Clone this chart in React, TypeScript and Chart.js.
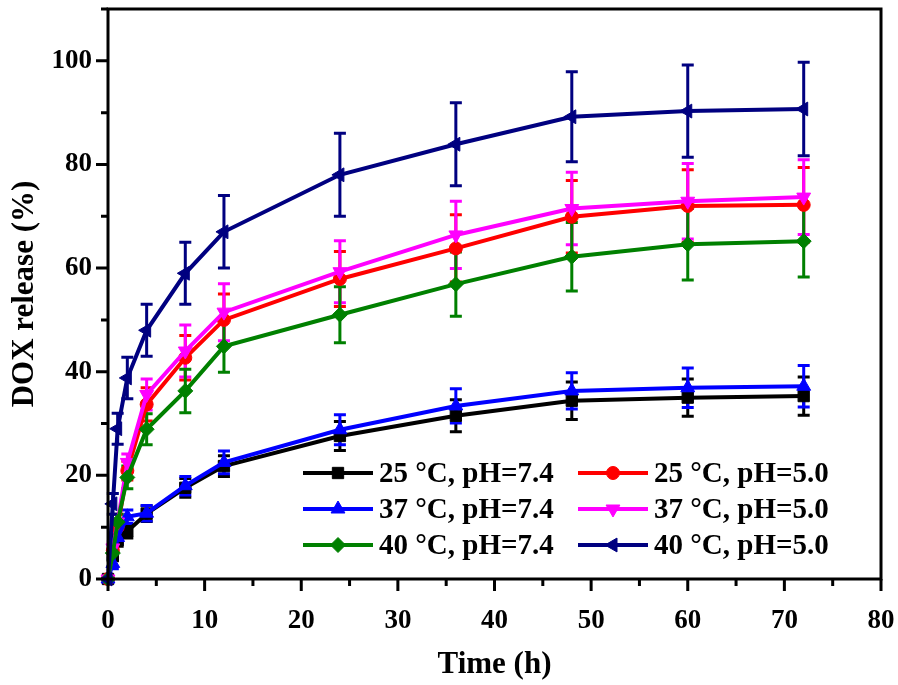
import React, { useEffect, useRef } from 'react';
import { Chart, registerables } from 'chart.js';
import { drawPoint } from 'chart.js/helpers';

Chart.register(...registerables);

// ---- Data ----
const times = [0, 0.5, 1, 2, 4, 8, 12, 24, 36, 48, 60, 72];

const seriesLabels = [
  '25 °C, pH=7.4',
  '25 °C, pH=5.0',
  '37 °C, pH=7.4',
  '37 °C, pH=5.0',
  '40 °C, pH=7.4',
  '40 °C, pH=5.0',
];

const t25pH74 = [0, 4.5, 7.5, 9.2, 12.6, 17.6, 21.8, 27.6, 31.5, 34.4, 35.0, 35.3];
const t25pH74Err = [0.5, 1.0, 1.2, 1.3, 1.5, 1.8, 2.0, 2.8, 3.1, 3.6, 3.6, 3.7];

const t25pH50 = [0, 5.5, 10.0, 20.9, 33.7, 42.7, 50.0, 57.9, 63.8, 69.9, 72.0, 72.2];
const t25pH50Err = [0.5, 1.2, 1.5, 1.8, 3.2, 4.3, 5.0, 5.3, 6.5, 7.0, 7.0, 7.2];

const t37pH74 = [0, 3.0, 8.0, 12.0, 12.7, 18.0, 22.5, 28.8, 33.4, 36.3, 36.9, 37.2];
const t37pH74Err = [0.5, 1.0, 1.2, 1.3, 1.5, 1.8, 2.2, 2.9, 3.3, 3.5, 3.8, 4.0];

const t37pH50 = [0, 6.0, 11.0, 22.5, 35.6, 44.0, 51.5, 59.3, 66.4, 71.5, 72.9, 73.7];
const t37pH50Err = [0.5, 1.2, 1.5, 1.6, 3.0, 5.0, 5.5, 6.0, 6.5, 7.0, 7.3, 7.2];

const t40pH74 = [0, 5.0, 11.0, 19.6, 28.9, 36.3, 44.9, 51.0, 56.9, 62.2, 64.6, 65.2];
const t40pH74Err = [0.5, 1.2, 1.5, 2.2, 3.0, 4.2, 5.0, 5.4, 6.2, 6.6, 6.9, 6.9];

const t40pH50 = [0, 14.5, 29.0, 38.8, 48.0, 59.0, 67.0, 78.0, 83.9, 89.2, 90.3, 90.7];
const t40pH50Err = [0.5, 2.0, 3.0, 4.0, 5.0, 6.0, 7.0, 8.0, 8.0, 8.7, 8.9, 9.0];

const seriesValues = [t25pH74, t25pH50, t37pH74, t37pH50, t40pH74, t40pH50];
const seriesErrors = [t25pH74Err, t25pH50Err, t37pH74Err, t37pH50Err, t40pH74Err, t40pH50Err];

const seriesColors = ['#000000', '#FF0000', '#0000FF', '#FF00FF', '#008000', '#000080'];
const seriesStyles = ['rect', 'circle', 'triangle', 'triangle', 'rectRot', 'triangle'];
const seriesRotation = [0, 0, 0, 180, 0, -90];
const seriesRadius = [8, 6.5, 8, 8, 7.5, 8];

const xMin = 0, xMax = 80, xMinorStep = 5, xMajorStep = 10;
const yMin = 0, yMax = 110, yMinorStep = 10, yMajorStep = 20;

const xTitle = 'Time (h)';
const yTitle = 'DOX release (%)';

const FONT = '"Liberation Serif", "Times New Roman", serif';

const errorBarPlugin = {
  id: 'errorBars',
  beforeDatasetsDraw(chart: any) {
    const ctx = chart.ctx;
    const xs = chart.scales.x;
    const ys = chart.scales.y;
    chart.data.datasets.forEach((ds: any) => {
      ctx.save();
      ctx.strokeStyle = ds.borderColor;
      ctx.lineWidth = 3;
      ds.data.forEach((p: any, i: number) => {
        const e = ds.errors[i];
        const px = xs.getPixelForValue(p.x);
        const top = ys.getPixelForValue(p.y + e);
        const bot = ys.getPixelForValue(Math.max(p.y - e, yMin));
        ctx.beginPath();
        ctx.moveTo(px, top);
        ctx.lineTo(px, bot);
        ctx.moveTo(px - 6, top);
        ctx.lineTo(px + 6, top);
        if (p.y - e >= yMin) {
          ctx.moveTo(px - 6, bot);
          ctx.lineTo(px + 6, bot);
        }
        ctx.stroke();
      });
      ctx.restore();
    });
  },
};

const framePlugin = {
  id: 'frame',
  afterDraw(chart: any) {
    const ctx = chart.ctx;
    const { left, right, top, bottom } = chart.chartArea;
    const xs = chart.scales.x;
    const ys = chart.scales.y;
    ctx.save();
    ctx.strokeStyle = '#000';
    ctx.lineWidth = 3;
    ctx.lineCap = 'square';
    ctx.strokeRect(left, top, right - left, bottom - top);
    ctx.lineCap = 'butt';
    ctx.beginPath();
    for (let v = xMin; v <= xMax + 1e-9; v += xMinorStep) {
      const px = xs.getPixelForValue(v);
      const len = v % xMajorStep === 0 ? 12 : 7;
      ctx.moveTo(px, bottom);
      ctx.lineTo(px, bottom + len);
    }
    for (let v = yMin; v <= yMax + 1e-9; v += yMinorStep) {
      const py = ys.getPixelForValue(v);
      const len = v % yMajorStep === 0 ? 12 : 7;
      ctx.moveTo(left, py);
      ctx.lineTo(left - len, py);
    }
    ctx.stroke();

    // axis titles
    ctx.fillStyle = '#000';
    ctx.font = `bold 31px ${FONT}`;
    ctx.textAlign = 'center';
    ctx.textBaseline = 'alphabetic';
    ctx.fillText(xTitle, (left + right) / 2, 673);
    ctx.save();
    ctx.translate(33, (top + bottom) / 2);
    ctx.rotate(-Math.PI / 2);
    ctx.fillText(yTitle, 0, 0);
    ctx.restore();

    // legend
    const colX = [303, 578];
    const rowY = [473, 509, 545];
    ctx.font = `bold 29px ${FONT}`;
    ctx.textAlign = 'left';
    ctx.textBaseline = 'middle';
    chart.data.datasets.forEach((ds: any, i: number) => {
      const cx = colX[i % 2];
      const cy = rowY[Math.floor(i / 2)];
      ctx.strokeStyle = ds.borderColor;
      ctx.lineWidth = 4;
      ctx.beginPath();
      ctx.moveTo(cx, cy);
      ctx.lineTo(cx + 70, cy);
      ctx.stroke();
      ctx.fillStyle = ds.borderColor;
      ctx.strokeStyle = ds.borderColor;
      ctx.lineWidth = 1;
      drawPoint(ctx, { pointStyle: ds.pointStyle, rotation: ds.rotation, radius: ds.pointRadius, borderWidth: 1 }, cx + 35, cy);
      ctx.fillStyle = '#000';
      ctx.fillText(ds.label, cx + 76, cy + 2);
    });
    ctx.restore();
  },
};

export default function App() {
  const canvasRef = useRef<HTMLCanvasElement | null>(null);

  useEffect(() => {
    document.body.style.margin = '0';
    const canvas = canvasRef.current;
    if (!canvas) return;
    const datasets = seriesValues.map((vals, i) => ({
      label: seriesLabels[i],
      data: times.map((t, j) => ({ x: t, y: vals[j] })),
      errors: seriesErrors[i],
      borderColor: seriesColors[i],
      backgroundColor: seriesColors[i],
      pointBackgroundColor: seriesColors[i],
      pointBorderColor: seriesColors[i],
      borderWidth: 4,
      pointStyle: seriesStyles[i],
      rotation: seriesRotation[i],
      pointRadius: seriesRadius[i],
      pointBorderWidth: 1,
      tension: 0,
      fill: false,
      order: seriesValues.length - 1 - i,
      clip: false as any,
    }));
    const chart = new Chart(canvas, {
      type: 'line',
      data: { datasets: datasets as any },
      options: {
        animation: false,
        responsive: false,
        devicePixelRatio: 1,
        layout: { padding: { top: 5, right: 17, left: 0, bottom: 0 } },
        plugins: { legend: { display: false }, tooltip: { enabled: false } },
        scales: {
          x: {
            type: 'linear',
            min: xMin,
            max: xMax,
            grid: { display: false, drawTicks: false, tickLength: 0 },
            border: { display: false },
            ticks: {
              stepSize: xMinorStep,
              autoSkip: false,
              maxRotation: 0,
              padding: 26,
              color: '#000',
              font: { family: FONT, size: 27, weight: 'bold' },
              callback: (v: any) => (Number(v) % xMajorStep === 0 ? String(v) : ''),
            },
            afterFit: (s: any) => {
              s.height = 106;
              s.paddingLeft = 0;
              s.paddingRight = 0;
              s.paddingTop = 0;
              s.paddingBottom = 0;
            },
          },
          y: {
            type: 'linear',
            min: yMin,
            max: yMax,
            grid: { display: false, drawTicks: false, tickLength: 0 },
            border: { display: false },
            ticks: {
              stepSize: yMinorStep,
              autoSkip: false,
              padding: 16,
              color: '#000',
              font: { family: FONT, size: 27, weight: 'bold' },
              callback: (v: any) => (Number(v) % yMajorStep === 0 && Number(v) <= 100 ? String(v) : ''),
            },
            afterFit: (s: any) => {
              s.width = 108;
              s.paddingLeft = 0;
              s.paddingRight = 0;
              s.paddingTop = 0;
              s.paddingBottom = 0;
            },
          },
        },
      },
      plugins: [errorBarPlugin, framePlugin],
    });
    return () => chart.destroy();
  }, []);

  return (
    <div style={{ width: 898, height: 685, background: '#fff' }}>
      <canvas ref={canvasRef} width={898} height={685} style={{ width: 898, height: 685, display: 'block' }} />
    </div>
  );
}
